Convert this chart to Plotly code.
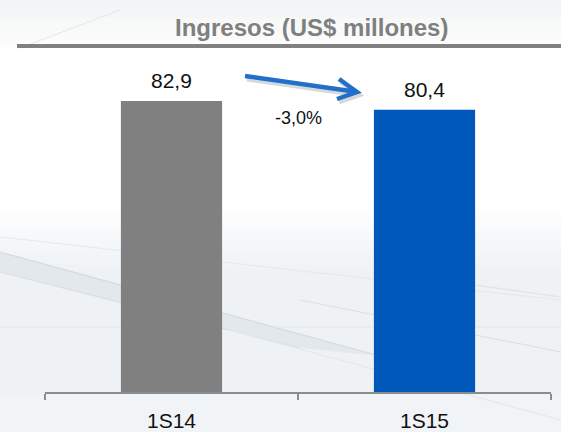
import plotly.graph_objects as go

# Data
periods = ["1S14", "1S15"]
revenue = [82.9, 80.4]
bar_colors = ["#808080", "#0058BA"]
change_label = "-3,0%"
title_text = "Ingresos (US$ millones)"

# Canvas geometry (pixels)
WIDTH, HEIGHT = 561, 432
L, R, T, B = 45, 10, 41, 40
PW, PH = WIDTH - L - R, HEIGHT - T - B

FONT = "Liberation Sans, Arial, sans-serif"


def px(x):
    return (x - L) / PW


def py(y):
    return (HEIGHT - B - y) / PH


def mix(c1, c2, t):
    a = [int(c1[i:i + 2], 16) for i in (1, 3, 5)]
    b = [int(c2[i:i + 2], 16) for i in (1, 3, 5)]
    return "#%02x%02x%02x" % tuple(round(a[k] + (b[k] - a[k]) * t) for k in range(3))


shapes = []

# Soft background: white top fading into a pale steel tone
top_tint = "#f3f4f5"
for i in range(10):
    y0 = i * 6
    shapes.append(dict(type="rect", xref="paper", yref="paper", layer="below",
                       x0=px(0), x1=px(WIDTH), y0=py(y0), y1=py(y0 + 6),
                       fillcolor=mix(top_tint, "#ffffff", i / 9), line_width=0))
base = "#eef2f5"
steps = 14
for i in range(steps):
    y0 = 205 + i * 5
    shapes.append(dict(type="rect", xref="paper", yref="paper", layer="below",
                       x0=px(0), x1=px(WIDTH), y0=py(y0), y1=py(y0 + 5),
                       fillcolor=mix("#ffffff", base, (i + 1) / steps), line_width=0))
shapes.append(dict(type="rect", xref="paper", yref="paper", layer="below",
                   x0=px(0), x1=px(WIDTH), y0=py(275), y1=py(HEIGHT),
                   fillcolor=base, line_width=0))
shapes.append(dict(type="rect", xref="paper", yref="paper", layer="below",
                   x0=px(0), x1=px(WIDTH), y0=py(395), y1=py(HEIGHT),
                   fillcolor="#f1f4f6", line_width=0))

# Darker diagonal band on the left, tapering out towards the middle
shapes.append(dict(type="path", xref="paper", yref="paper", layer="below",
                   path="M %f,%f L %f,%f L %f,%f L %f,%f Z" % (
                       px(0), py(252), px(380), py(356), px(300), py(348), px(0), py(272)),
                   fillcolor="#e2e8ec", line_width=0))

# Faint streaks
streaks = [
    ((0, 252), (380, 356), "#d3dbe1"),
    ((0, 272), (300, 348), "#d7dee3"),
    ((0, 327), (561, 327), "#dfe5e9"),
    ((0, 237), (561, 300), "#e4e9ec"),
    ((380, 272), (561, 297), "#dde3e8"),
    ((300, 300), (561, 352), "#dae1e6"),
    ((230, 330), (561, 420), "#e3e8ec"),
    ((20, 48), (120, 10), "#e6e8ea"),
]
for (x0, y0), (x1, y1), c in streaks:
    shapes.append(dict(type="line", xref="paper", yref="paper", layer="below",
                       x0=px(x0), y0=py(y0), x1=px(x1), y1=py(y1),
                       line=dict(color=c, width=1.2)))

# Title rule
shapes.append(dict(type="line", xref="paper", yref="paper",
                   x0=px(17), x1=px(WIDTH), y0=py(46), y1=py(46),
                   line=dict(color="#808080", width=4)))

# Change arrow (with a light shadow)
tail, tip = (245, 76), (357, 92)
wing1, wing2 = (339, 79), (337, 99)
for dx, dy, col, w in [(2, 3, "rgba(120,130,140,0.30)", 5), (0, 0, "#1f6fcb", 4.5)]:
    shapes.append(dict(type="path", xref="paper", yref="paper",
                       path="M %f,%f L %f,%f M %f,%f L %f,%f L %f,%f" % (
                           px(tail[0] + dx), py(tail[1] + dy), px(tip[0] - 3 + dx), py(tip[1] - 0.5 + dy),
                           px(wing1[0] + dx), py(wing1[1] + dy), px(tip[0] + dx), py(tip[1] + dy),
                           px(wing2[0] + dx), py(wing2[1] + dy)),
                       line=dict(color=col, width=w)))

fig = go.Figure(go.Bar(
    x=periods, y=revenue, marker=dict(color=bar_colors, line_width=0),
    width=0.4, hoverinfo="skip",
))

annotations = [
    dict(text="<b>%s</b>" % title_text, xref="paper", yref="paper",
         x=px(311), y=py(27), xanchor="center", yanchor="middle", showarrow=False,
         font=dict(family=FONT, size=24, color="#7f7f7f")),
    dict(text=change_label, xref="paper", yref="paper",
         x=px(298), y=py(118), xanchor="center", yanchor="middle", showarrow=False,
         font=dict(family=FONT, size=18, color="#111111")),
]
for p, v in zip(periods, revenue):
    annotations.append(dict(text=f"{v:.1f}".replace(".", ","), x=p, y=v,
                            xanchor="center", yanchor="bottom", yshift=7, showarrow=False,
                            font=dict(family=FONT, size=21, color="#111111")))

fig.update_layout(
    width=WIDTH, height=HEIGHT,
    margin=dict(l=L, r=R, t=T, b=B, pad=0, autoexpand=False),
    paper_bgcolor="#ffffff", plot_bgcolor="rgba(0,0,0,0)",
    showlegend=False, separators=", ",
    shapes=shapes, annotations=annotations,
    xaxis=dict(showline=True, linecolor="#8c8c8c", linewidth=1.5,
               ticks="outside", tickson="boundaries", ticklen=6, tickcolor="#8c8c8c",
               tickwidth=1.5, showgrid=False, zeroline=False, automargin=False,
               tickfont=dict(family=FONT, size=21, color="#111111"),
               ticklabelstandoff=9),
    yaxis=dict(range=[0, 100], visible=False, showgrid=False, zeroline=False,
               automargin=False),
)

fig.write_html("out.html")
